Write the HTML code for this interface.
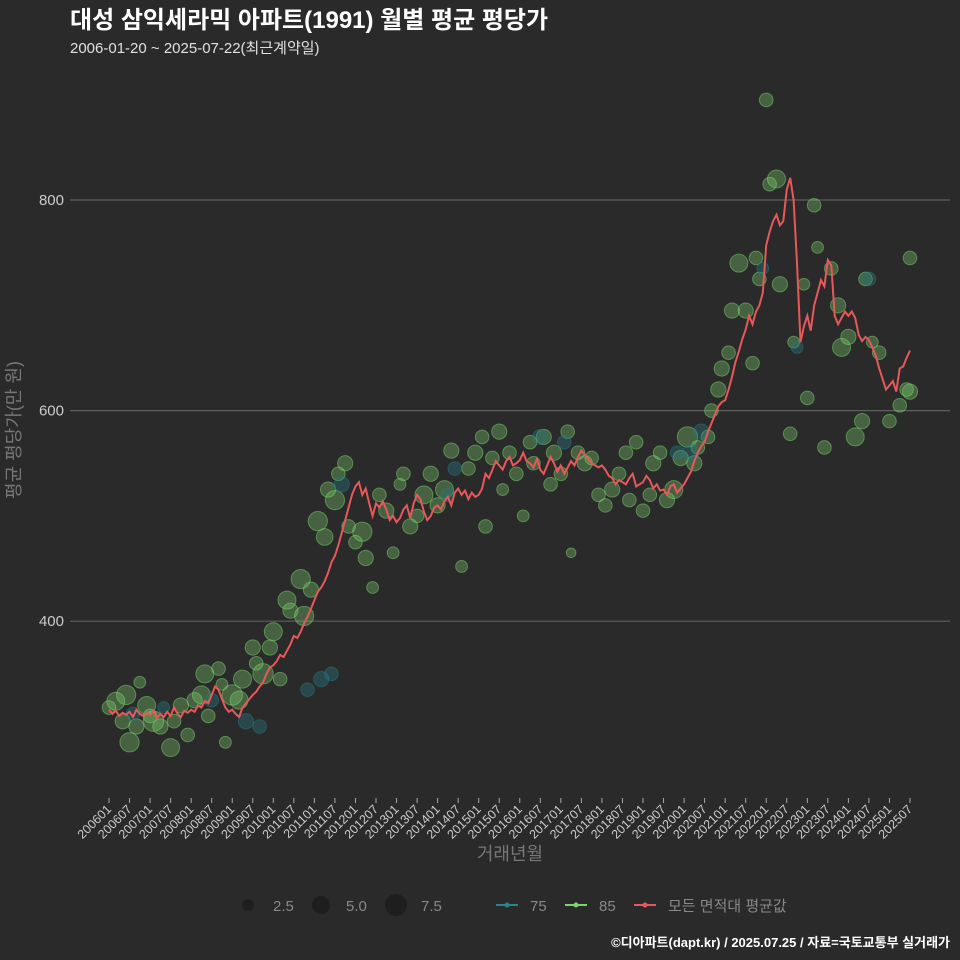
<!DOCTYPE html>
<html><head><meta charset="utf-8"><style>
body{margin:0;background:#2a2a2b;}
svg{display:block;font-family:"Liberation Sans","Noto Sans CJK KR",sans-serif;}
</style></head><body>
<svg id="c" width="960" height="960" viewBox="0 0 960 960">
<rect width="960" height="960" fill="#2a2a2b"/>
<text x="70" y="28" font-size="24" font-weight="bold" fill="#ffffff">대성 삼익세라믹 아파트(1991) 월별 평균 평당가</text>
<text x="70" y="53" font-size="15" fill="#e0e0e0">2006-01-20 ~ 2025-07-22(최근계약일)</text>
<g id="grid"></g>
<g id="yax"></g>
<g id="xax"></g>
<g id="pts"></g>
<path id="line" fill="none" stroke="#e8585a" stroke-width="2"/>
<text x="0" y="0" transform="translate(20,430) rotate(-90)" text-anchor="middle" font-size="18" fill="#777">평균 평당가(만 원)</text>
<text x="510" y="860" text-anchor="middle" font-size="18" fill="#777">거래년월</text>
<g font-size="15" fill="#888">
<circle cx="248" cy="905" r="6" fill="#1e1e1f"/><text x="273" y="911">2.5</text>
<circle cx="321" cy="905" r="9" fill="#1e1e1f"/><text x="346" y="911">5.0</text>
<circle cx="396" cy="905" r="11" fill="#1e1e1f"/><text x="421" y="911">7.5</text>
<line x1="496" y1="905" x2="518" y2="905" stroke="#26868d" stroke-width="2"/><circle cx="507" cy="905" r="2.5" fill="#26868d"/><text x="530" y="911">75</text>
<line x1="565" y1="905" x2="587" y2="905" stroke="#7ed46f" stroke-width="2"/><circle cx="576" cy="905" r="2.5" fill="#7ed46f"/><text x="599" y="911">85</text>
<line x1="634" y1="905" x2="656" y2="905" stroke="#e8585a" stroke-width="2"/><circle cx="645" cy="905" r="2.5" fill="#e8585a"/><text x="668" y="911">모든 면적대 평균값</text>
</g>
<text x="950" y="947" text-anchor="end" font-size="13" font-weight="bold" fill="#fff">©디아파트(dapt.kr) / 2025.07.25 / 자료=국토교통부 실거래가</text>
</svg>
<script>
const avgValues=[
316,312,315,310,313,311,314,309,316,312,310,313,
311,315,308,312,309,314,310,318,312,309,315,313,
316,314,320,318,324,322,330,338,335,326,318,314,
316,312,309,318,322,326,330,333,338,342,350,356,
358,362,368,366,372,378,386,384,390,398,404,412,
420,428,432,438,446,456,462,472,484,496,508,520,
528,532,520,526,512,500,512,508,514,506,496,500,
494,498,506,510,498,512,520,516,504,496,500,508,
510,506,514,518,510,522,526,520,524,516,522,518,
520,526,540,536,544,552,548,544,552,556,548,550,
553,560,552,550,546,554,544,540,548,556,550,542,
548,540,546,552,548,556,562,558,554,550,548,546,
548,544,538,536,530,534,532,530,536,540,528,530,
532,538,534,526,530,524,525,520,528,530,522,526,
530,536,542,552,560,566,570,580,588,596,604,608,
610,620,632,646,656,668,677,690,682,694,700,712,
757,770,780,786,776,780,810,821,800,740,665,680,
690,676,700,712,724,718,743,738,690,682,688,694,
690,694,688,672,666,670,667,660,652,640,630,620,
624,628,618,640,642,650,657];
const ptMonths=[0,2,4,5,6,8,9,11,12,13,15,18,19,21,23,25,27,28,29,32,33,34,36,38,39,42,43,45,47,48,50,52,53,56,57,59,61,63,64,66,67,69,70,72,74,75,77,79,81,83,85,86,88,90,92,94,96,98,100,103,105,107,109,110,112,114,115,117,119,121,123,124,127,129,130,132,134,135,137,139,141,143,145,147,149,151,152,154,156,158,159,161,163,165,167,169,171,172,175,176,178,179,181,182,184,186,188,189,190,192,193,195,196,199,200,203,204,206,207,209,211,213,214,216,218,220,221,223,225,228,231,233,234,234,7,16,30,40,44,58,62,65,68,99,101,126,133,166,170,173,191,201,222];
const ptValues=[318,324,305,330,285,300,342,320,310,305,300,280,305,320,292,325,330,350,310,355,340,285,330,325,345,375,360,350,375,390,345,420,410,440,405,430,495,480,525,515,540,550,490,475,485,460,432,520,505,465,530,540,490,500,520,540,510,525,562,452,545,560,575,490,555,580,525,560,540,500,570,550,575,530,560,540,580,465,560,550,555,520,510,525,540,560,515,570,505,520,550,560,515,525,555,575,550,565,575,600,620,640,655,695,740,695,645,745,725,895,815,820,720,578,665,720,612,795,755,565,735,700,660,670,575,590,725,665,655,590,605,620,745,618,312,318,325,305,300,335,345,350,530,520,545,575,570,560,560,580,735,660,725];
const ptSizes=[4,7,5,8,8,5,3,7,4,9,5,7,4,5,4,5,7,7,4,4,3,3,9,7,7,5,4,9,5,7,4,7,5,8,8,5,8,6,5,8,4,5,4,4,8,5,3,4,5,3,3,4,5,4,7,5,5,7,5,3,4,5,4,4,4,5,3,4,4,3,4,4,5,4,5,4,4,2,4,5,4,4,4,5,4,4,4,4,4,4,5,4,5,7,5,9,5,4,4,4,5,5,4,5,7,5,4,4,4,4,4,7,5,4,3,3,4,4,3,4,4,5,7,5,7,5,4,3,4,4,4,4,4,5,4,3,4,5,4,4,5,4,5,4,4,5,4,4,6,5,3,3,4,5,4];
const ptTypes=[85,85,85,85,85,85,85,85,85,85,85,85,85,85,85,85,85,85,85,85,85,85,85,85,85,85,85,85,85,85,85,85,85,85,85,85,85,85,85,85,85,85,85,85,85,85,85,85,85,85,85,85,85,85,85,85,85,85,85,85,85,85,85,85,85,85,85,85,85,85,85,85,85,85,85,85,85,85,85,85,85,85,85,85,85,85,85,85,85,85,85,85,85,85,85,85,85,85,85,85,85,85,85,85,85,85,85,85,85,85,85,85,85,85,85,85,85,85,85,85,85,85,85,85,85,85,85,85,85,85,85,85,85,85,75,75,75,75,75,75,75,75,75,75,75,75,75,75,75,75,75,75,75,75];
const yTicks=[400,600,800];
const startYear=2006,totalMonths=234;
const x=m=>109+m*(801/totalMonths);
const y=v=>200+(800-v)*1.053;
const NS="http://www.w3.org/2000/svg";
const grid=document.getElementById('grid'),yax=document.getElementById('yax');
yTicks.forEach(t=>{
 const l=document.createElementNS(NS,'line');
 l.setAttribute('x1',70);l.setAttribute('x2',950);l.setAttribute('y1',y(t));l.setAttribute('y2',y(t));
 l.setAttribute('stroke','#5e5e5e');l.setAttribute('stroke-width','1.2');
 
 
 grid.appendChild(l);
 const tx=document.createElementNS(NS,'text');
 tx.setAttribute('x',64);tx.setAttribute('y',y(t)+5);tx.setAttribute('text-anchor','end');
 tx.setAttribute('font-size','15');tx.setAttribute('fill','#ccc');tx.textContent=t;
 
 
 yax.appendChild(tx);
});
const xax=document.getElementById('xax');
for(let m=0;m<=totalMonths;m+=6){
 const yr=startYear+Math.floor(m/12),mo=(m%12)+1;
 const lab=yr+(mo<10?'0':'')+mo;
 const tk=document.createElementNS(NS,'line');
 tk.setAttribute('x1',x(m));tk.setAttribute('x2',x(m));tk.setAttribute('y1',798);tk.setAttribute('y2',803);
 tk.setAttribute('stroke','#aaa');
 
 
 xax.appendChild(tk);
 const tx=document.createElementNS(NS,'text');
 tx.setAttribute('transform','translate('+(x(m)+3)+',810) rotate(-45)');
 tx.setAttribute('text-anchor','end');tx.setAttribute('font-size','12.5');tx.setAttribute('fill','#ccc');
 tx.textContent=lab;
 
 
 xax.appendChild(tx);
}
const pts=document.getElementById('pts');
ptMonths.forEach((m,i)=>{
 const c=document.createElementNS(NS,'circle');
 c.setAttribute('cx',x(m));c.setAttribute('cy',y(ptValues[i]));
 c.setAttribute('r',Math.sqrt(ptSizes[i])*3.4);
 const teal=ptTypes[i]===75;
 c.setAttribute('fill',teal?'rgba(38,120,130,0.38)':'rgba(126,212,111,0.33)');
 c.setAttribute('stroke',teal?'rgba(38,120,130,0.5)':'rgba(126,212,111,0.5)');
 
 
 pts.appendChild(c);
});
document.getElementById('line').setAttribute('d',avgValues.map((v,i)=>(i?'L':'M')+x(i).toFixed(1)+','+y(v).toFixed(1)).join(''));
</script>
</body></html>
